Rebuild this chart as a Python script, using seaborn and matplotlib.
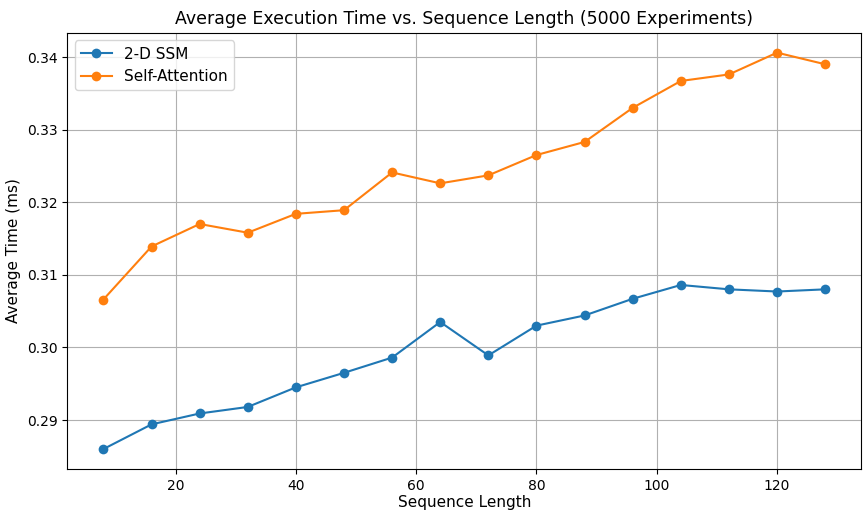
import numpy as np
import pandas as pd
import matplotlib
matplotlib.use("Agg")
import matplotlib.pyplot as plt
import seaborn as sns

# sequence lengths and measured times (ms)
seq_len = [8, 16, 24, 32, 40, 48, 56, 64, 72, 80, 88, 96, 104, 112, 120, 128]
ssm_time = [0.2860, 0.2894, 0.2909, 0.2918, 0.2945, 0.2965, 0.2986, 0.3035, 0.2989,
            0.3030, 0.3044, 0.3067, 0.3086, 0.3080, 0.3077, 0.3080]
attn_time = [0.3066, 0.3139, 0.3170, 0.3158, 0.3184, 0.3189, 0.3241, 0.3226, 0.3237,
             0.3265, 0.3283, 0.3330, 0.3367, 0.3376, 0.3406, 0.3390]
series_names = ["2-D SSM", "Self-Attention"]

df = pd.DataFrame({
    "Sequence Length": seq_len * 2,
    "Average Time (ms)": ssm_time + attn_time,
    "Model": [series_names[0]] * len(seq_len) + [series_names[1]] * len(seq_len),
})

fig, ax = plt.subplots(figsize=(8.63, 5.13), dpi=100)
sns.lineplot(data=df, x="Sequence Length", y="Average Time (ms)", hue="Model",
             palette=["#1f77b4", "#ff7f0e"], marker="o", markersize=7,
             markeredgewidth=0, ax=ax)

ax.set_title("Average Execution Time vs. Sequence Length (5000 Experiments)", fontsize=12.5)
ax.set_xlabel("Sequence Length", fontsize=11, labelpad=2)
ax.set_ylabel("Average Time (ms)", fontsize=11)
ax.grid(True, color="#b0b0b0", linewidth=0.8)
ax.legend(title=None, loc="upper left", fontsize=11)

fig.subplots_adjust(left=0.078, right=0.998, top=0.936, bottom=0.086)
plt.savefig("out.png", dpi=100)
